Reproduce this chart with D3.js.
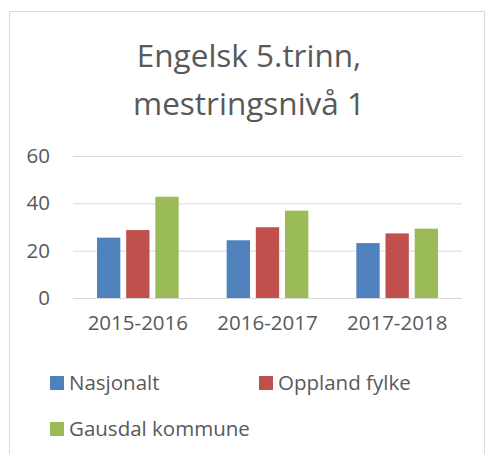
<!DOCTYPE html>
<html>
<head>
<meta charset="utf-8">
<script src="https://cdnjs.cloudflare.com/ajax/libs/d3/7.8.5/d3.min.js"></script>
<style>
  html, body { margin: 0; padding: 0; background: #fff; overflow: hidden; }
  svg { display: block; }
  text { font-family: "Open Sans", sans-serif; fill: #595959; }
</style>
</head>
<body>
<div id="chart"></div>
<script>
const years = ['2015-2016', '2016-2017', '2017-2018'];
const seriesNames = ['Nasjonalt', 'Oppland fylke', 'Gausdal kommune'];
const nasjonalt = [25.5, 24.4, 23.2];
const oppland = [28.7, 29.9, 27.3];
const gausdal = [42.8, 36.9, 29.3];
const yTickValues = [0, 20, 40, 60];
const colors = ['#4F81BD', '#C0504D', '#9BBB59'];

const width = 487, height = 454;
const margin = { top: 156, left: 73, right: 25, bottom: 156 };
const innerWidth = width - margin.left - margin.right;   // 389
const innerHeight = 298 - margin.top;                     // 142

const svg = d3.select('#chart').append('svg')
  .attr('width', width)
  .attr('height', height);

// chart frame (bottom edge is outside the picture)
svg.append('path')
  .attr('d', `M9.5,${height}V11.5H484.5V${height}`)
  .attr('fill', 'none')
  .attr('stroke', '#d9d9d9');

// title
const title = svg.append('text')
  .attr('text-anchor', 'middle')
  .attr('font-size', 31.5);
title.append('tspan').attr('x', 249).attr('y', 67).text('Engelsk 5.trinn,');
title.append('tspan').attr('x', 249).attr('y', 115).text('mestringsnivå 1');

const g = svg.append('g')
  .attr('transform', `translate(${margin.left},${margin.top})`);

const xScale = d3.scaleBand()
  .domain(years)
  .range([0, innerWidth]);

const xInner = d3.scaleBand()
  .domain(seriesNames)
  .range([24, xScale.bandwidth() - 24])
  .paddingInner(0.2);

const yScale = d3.scaleLinear()
  .domain([0, 60])
  .range([innerHeight, 0]);

// gridlines + y labels
const yAxis = d3.axisLeft(yScale)
  .tickValues(yTickValues)
  .tickSize(-innerWidth)
  .tickPadding(23);

const yAxisG = g.append('g').call(yAxis);
yAxisG.select('.domain').remove();
yAxisG.selectAll('.tick line').attr('stroke', '#d9d9d9');
yAxisG.selectAll('.tick text')
  .attr('font-size', 20.5)
  .attr('fill', '#595959')
  .attr('font-family', '"Open Sans", sans-serif');

// x labels
const xAxis = d3.axisBottom(xScale).tickSize(0).tickPadding(17);
const xAxisG = g.append('g')
  .attr('transform', `translate(0,${innerHeight})`)
  .call(xAxis);
xAxisG.select('.domain').remove();
xAxisG.selectAll('.tick text')
  .attr('font-size', 20.5)
  .attr('fill', '#595959')
  .attr('font-family', '"Open Sans", sans-serif');

// bars
const rows = years.map((year, i) => ({
  year,
  values: [nasjonalt[i], oppland[i], gausdal[i]]
}));

const groups = g.selectAll('.group')
  .data(rows)
  .enter().append('g')
  .attr('class', 'group')
  .attr('transform', d => `translate(${xScale(d.year)},0)`);

groups.selectAll('rect')
  .data(d => d.values.map((v, j) => ({ name: seriesNames[j], value: v, color: colors[j] })))
  .enter().append('rect')
  .attr('x', d => xInner(d.name))
  .attr('width', xInner.bandwidth())
  .attr('y', d => yScale(d.value))
  .attr('height', d => innerHeight - yScale(d.value))
  .attr('fill', d => d.color);

// legend
const legendPos = [[50, 376], [259, 376], [50, 422]];
const legend = svg.selectAll('.legend')
  .data(seriesNames)
  .enter().append('g')
  .attr('class', 'legend')
  .attr('transform', (d, i) => `translate(${legendPos[i][0]},${legendPos[i][1]})`);

legend.append('rect')
  .attr('width', 14).attr('height', 14)
  .attr('fill', (d, i) => colors[i]);

legend.append('text')
  .attr('x', 19)
  .attr('y', 14)
  .attr('font-size', 20.5)
  .text(d => d);
</script>
</body>
</html>
